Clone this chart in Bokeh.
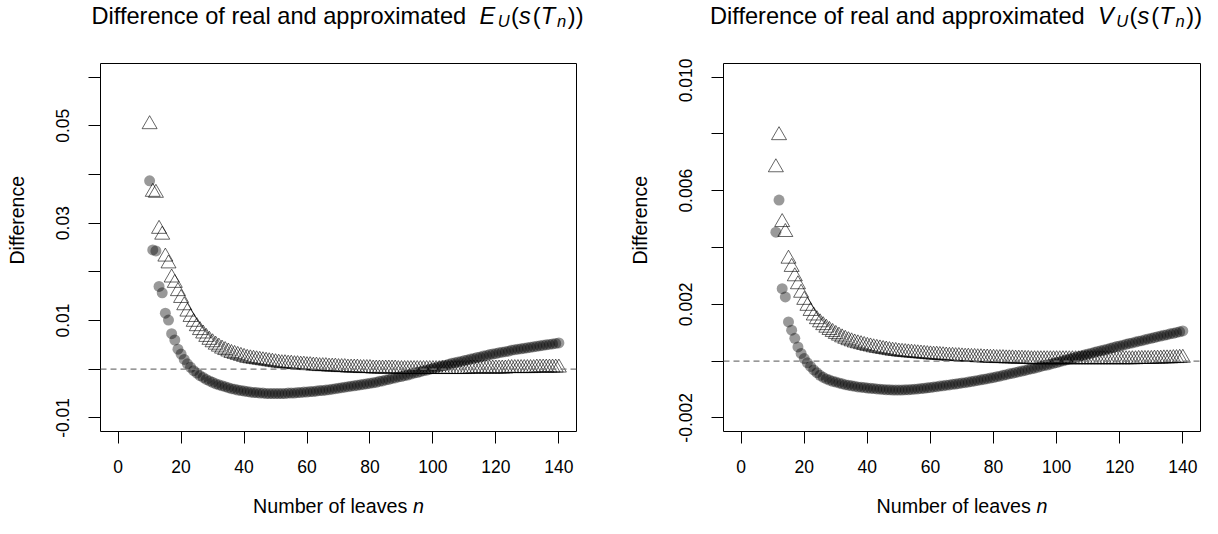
import math
from bokeh.plotting import figure
from bokeh.models import Range1d, FixedTicker, PrintfTickFormatter, Span
from bokeh.layouts import row, column
from bokeh.core.properties import value
from bokeh.embed import file_html
from bokeh.resources import INLINE

# ---------------- data ----------------
n_E = list(range(10, 141))
E_circles = [
    0.0387, 0.0245, 0.0243, 0.0170, 0.0157, 0.0115, 0.0101, 0.0073, 0.0060, 0.0041,            # 10-19
    0.0031, 0.0020, 0.0011, 0.0004, -0.0003, -0.0008, -0.0013, -0.0017, -0.0021, -0.0024,      # 20-29
    -0.0027, -0.0030, -0.0032, -0.0034, -0.0036, -0.0038, -0.0040, -0.0041, -0.0043, -0.0044,  # 30-39
    -0.0045, -0.0046, -0.0047, -0.0048, -0.0048, -0.0049, -0.0049, -0.0050, -0.0050, -0.0050,  # 40-49
    -0.0050, -0.0050, -0.0050, -0.0050, -0.0049, -0.0049, -0.0049, -0.0048, -0.0048, -0.0047,  # 50-59
    -0.0047, -0.0046, -0.0046, -0.0045, -0.0044, -0.0044, -0.0043, -0.0042, -0.0041, -0.0040,  # 60-69
    -0.0039, -0.0038, -0.0037, -0.0036, -0.0035, -0.0034, -0.0033, -0.0032, -0.0031, -0.0030,  # 70-79
    -0.0029, -0.0028, -0.0027, -0.0025, -0.0024, -0.0022, -0.0021, -0.0019, -0.0018, -0.0016,  # 80-89
    -0.0015, -0.0013, -0.0012, -0.0010, -0.0008, -0.0007, -0.0005, -0.0003, -0.0002, 0.0000,   # 90-99
    0.0002, 0.0003, 0.0005, 0.0007, 0.0008, 0.0010, 0.0012, 0.0013, 0.0015, 0.0016,            # 100-109
    0.0018, 0.0019, 0.0021, 0.0022, 0.0024, 0.0025, 0.0027, 0.0028, 0.0030, 0.0031,            # 110-119
    0.0032, 0.0034, 0.0035, 0.0036, 0.0037, 0.0039, 0.0040, 0.0041, 0.0042, 0.0043,            # 120-129
    0.0044, 0.0045, 0.0046, 0.0047, 0.0048, 0.0049, 0.0050, 0.0051, 0.0052, 0.0053,            # 130-139
    0.0054,                                                                                    # 140
]
E_triangles = [
    0.0503, 0.0364, 0.0362, 0.0288, 0.0276, 0.0231, 0.0217, 0.0188, 0.0177, 0.0160,            # 10-19
    0.0146, 0.0131, 0.0118, 0.0107, 0.0097, 0.0088, 0.0080, 0.0073, 0.0066, 0.0060,            # 20-29
    0.0055, 0.0050, 0.0046, 0.0042, 0.0039, 0.0036, 0.0033, 0.0031, 0.0029, 0.0027,            # 30-39
    0.0025, 0.0023, 0.0022, 0.0021, 0.0020, 0.0019, 0.0018, 0.0017, 0.0016, 0.0015,            # 40-49
    0.0014, 0.0013, 0.0012, 0.0012, 0.0011, 0.0011, 0.0010, 0.0010, 0.0009, 0.0009,            # 50-59
    0.0008, 0.0008, 0.0007, 0.0007, 0.0006, 0.0006, 0.0006, 0.0005, 0.0005, 0.0005,            # 60-69
    0.0004, 0.0004, 0.0004, 0.0003, 0.0003, 0.0003, 0.0003, 0.0002, 0.0002, 0.0002,            # 70-79
    0.0002, 0.0001, 0.0001, 0.0001, 0.0001, 0.0001, 0.0001, 0.0001, 0.0001, 0.0000,            # 80-89
    0.0000, 0.0000, 0.0000, 0.0000, 0.0000, 0.0000, 0.0000, 0.0000, 0.0000, 0.0000,            # 90-99
    0.0000, 0.0000, 0.0000, 0.0000, 0.0000, 0.0000, 0.0000, 0.0000, 0.0000, 0.0000,            # 100-109
    0.0000, 0.0000, 0.0001, 0.0001, 0.0001, 0.0001, 0.0001, 0.0001, 0.0001, 0.0001,            # 110-119
    0.0001, 0.0001, 0.0001, 0.0001, 0.0002, 0.0002, 0.0002, 0.0002, 0.0002, 0.0002,            # 120-129
    0.0002, 0.0002, 0.0002, 0.0003, 0.0003, 0.0003, 0.0003, 0.0003, 0.0003, 0.0003,            # 130-139
    0.0003,                                                                                    # 140
]

n_V = list(range(11, 141))
V_circles = [
    0.00454, 0.00567, 0.00255, 0.00226, 0.00138, 0.00109, 0.00080, 0.00050, 0.00027,                      # 11-19
    0.00009, -0.00006, -0.00019, -0.00031, -0.00041, -0.00050, -0.00057, -0.00063, -0.00067, -0.00071,    # 20-29
    -0.00074, -0.00077, -0.00080, -0.00083, -0.00085, -0.00087, -0.00089, -0.00091, -0.00092, -0.00093,   # 30-39
    -0.00095, -0.00096, -0.00097, -0.00098, -0.00099, -0.00100, -0.00101, -0.00101, -0.00102, -0.00102,   # 40-49
    -0.00102, -0.00102, -0.00101, -0.00101, -0.00100, -0.00099, -0.00098, -0.00097, -0.00096, -0.00094,   # 50-59
    -0.00093, -0.00091, -0.00090, -0.00088, -0.00087, -0.00085, -0.00084, -0.00082, -0.00081, -0.00079,   # 60-69
    -0.00077, -0.00076, -0.00074, -0.00072, -0.00070, -0.00068, -0.00066, -0.00064, -0.00062, -0.00060,   # 70-79
    -0.00058, -0.00055, -0.00053, -0.00050, -0.00048, -0.00045, -0.00043, -0.00040, -0.00038, -0.00035,   # 80-89
    -0.00033, -0.00030, -0.00027, -0.00025, -0.00022, -0.00019, -0.00016, -0.00014, -0.00011, -0.00008,   # 90-99
    -0.00005, -0.00002, 0.00001, 0.00004, 0.00007, 0.00010, 0.00013, 0.00016, 0.00019, 0.00022,           # 100-109
    0.00025, 0.00028, 0.00031, 0.00034, 0.00036, 0.00039, 0.00042, 0.00045, 0.00048, 0.00051,             # 110-119
    0.00053, 0.00056, 0.00059, 0.00062, 0.00064, 0.00067, 0.00070, 0.00072, 0.00075, 0.00078,             # 120-129
    0.00080, 0.00083, 0.00086, 0.00088, 0.00091, 0.00093, 0.00096, 0.00098, 0.00101, 0.00103,             # 130-139
    0.00106,                                                                                              # 140
]
V_triangles = [
    0.00682, 0.00795, 0.00489, 0.00454, 0.00360, 0.00331, 0.00298, 0.00270, 0.00240,             # 11-19
    0.00215, 0.00194, 0.00176, 0.00160, 0.00147, 0.00136, 0.00126, 0.00117, 0.00109, 0.00102,    # 20-29
    0.00095, 0.00089, 0.00083, 0.00078, 0.00073, 0.00069, 0.00065, 0.00062, 0.00059, 0.00056,    # 30-39
    0.00053, 0.00051, 0.00048, 0.00046, 0.00044, 0.00042, 0.00040, 0.00038, 0.00036, 0.00035,    # 40-49
    0.00033, 0.00032, 0.00031, 0.00030, 0.00029, 0.00028, 0.00027, 0.00026, 0.00025, 0.00024,    # 50-59
    0.00023, 0.00022, 0.00022, 0.00021, 0.00020, 0.00019, 0.00018, 0.00018, 0.00017, 0.00017,    # 60-69
    0.00016, 0.00015, 0.00015, 0.00014, 0.00014, 0.00013, 0.00013, 0.00012, 0.00012, 0.00011,    # 70-79
    0.00011, 0.00010, 0.00010, 0.00010, 0.00009, 0.00009, 0.00009, 0.00008, 0.00008, 0.00008,    # 80-89
    0.00007, 0.00007, 0.00006, 0.00006, 0.00006, 0.00006, 0.00006, 0.00006, 0.00006, 0.00006,    # 90-99
    0.00006, 0.00006, 0.00006, 0.00006, 0.00006, 0.00006, 0.00006, 0.00006, 0.00006, 0.00006,    # 100-109
    0.00006, 0.00006, 0.00006, 0.00006, 0.00006, 0.00006, 0.00006, 0.00006, 0.00006, 0.00006,    # 110-119
    0.00006, 0.00006, 0.00006, 0.00006, 0.00006, 0.00006, 0.00007, 0.00007, 0.00007, 0.00007,    # 120-129
    0.00007, 0.00008, 0.00008, 0.00008, 0.00009, 0.00009, 0.00009, 0.00010, 0.00010, 0.00011,    # 130-139
    0.00011,                                                                                     # 140
]

x_ticks = [0, 20, 40, 60, 80, 100, 120, 140]
E_yticks_labeled = [-0.01, 0.01, 0.03, 0.05]
E_yticks_unlabeled = [0.0, 0.02, 0.04, 0.06]
V_yticks_labeled = [-0.002, 0.002, 0.006, 0.010]
V_yticks_unlabeled = [0.0, 0.004, 0.008]
x_lim = (0, 140)
E_ylim = (-0.01, 0.06)
V_ylim = (-0.002, 0.010)

title_text = "Difference of real and approximated"
xlabel_text = "Number of leaves "
ylabel_text = "Difference"

# ---------------- layout ----------------
FONT = "Liberation Sans"
TITLE_H = 58
MID_H = 432
XLAB_H = 28
YLAB_W = 40
FRAME_H = 368
SHIFT = 9      # empirical correction of the rendered text baseline


def ext(lim):
    d = (lim[1] - lim[0]) * 0.04
    return (lim[0] - d, lim[1] + d)


def text_fig(w, h):
    f = figure(width=w, height=h, x_range=Range1d(0, w), y_range=Range1d(0, h),
               x_axis_type=None, y_axis_type=None, toolbar_location=None,
               output_backend="svg", min_border=0, outline_line_color=None,
               background_fill_color="white", border_fill_color="white")
    return f


def put(f, h, items, size, style="normal", **kw):
    # items: (text, x_px, y_px_from_top)
    f.text(x=[it[1] for it in items], y=[h - it[2] for it in items],
           text=[it[0] for it in items], text_font=value(FONT),
           text_font_size=value(size), text_font_style=value(style),
           text_color="black", text_baseline="alphabetic", **kw)


def make_main(width, border_left, frame_w, ylim, ymaj, ymin, fmt, n, circ, tri):
    p = figure(width=width, height=MID_H, output_backend="svg", toolbar_location=None,
               x_range=Range1d(*ext(x_lim)), y_range=Range1d(*ext(ylim)),
               min_border_left=border_left, min_border_right=width - border_left - frame_w,
               min_border_top=5, min_border_bottom=MID_H - 5 - FRAME_H,
               background_fill_color="white", border_fill_color="white")
    p.xgrid.visible = False
    p.ygrid.visible = False
    p.outline_line_color = "black"
    p.outline_line_width = 1
    p.outline_line_alpha = 1
    for ax in (p.xaxis[0], p.yaxis[0]):
        ax.axis_line_color = None
        ax.major_tick_out = 12
        ax.major_tick_in = 0
        ax.minor_tick_out = 12
        ax.minor_tick_in = 0
        ax.major_tick_line_color = "black"
        ax.minor_tick_line_color = "black"
        ax.major_label_text_font = FONT
        ax.major_label_text_font_size = "17.5px"
        ax.major_label_text_color = "black"
    p.xaxis[0].ticker = FixedTicker(ticks=x_ticks, minor_ticks=[])
    p.xaxis[0].major_label_standoff = 16
    p.yaxis[0].ticker = FixedTicker(ticks=ymaj, minor_ticks=ymin)
    p.yaxis[0].formatter = PrintfTickFormatter(format=fmt)
    p.yaxis[0].major_label_orientation = "vertical"
    p.yaxis[0].major_label_standoff = 19

    p.add_layout(Span(location=0, dimension="width", line_color="#777777",
                      line_width=1.2, line_dash="6 4"))
    p.scatter(n, circ, marker="circle", size=11, fill_color="black", fill_alpha=0.4,
              line_color=None)
    p.scatter(n, tri, marker="triangle", size=15, fill_color=None, line_color="black",
              line_alpha=0.6, line_width=1)
    return p


def make_panel(col_x, col_w, frame_x, frame_w, title_x, letter, ylim, ymaj, ymin, fmt,
               n, circ, tri):
    # title (plotmath-like composition)
    tf = text_fig(col_w, TITLE_H)
    T, S = "23.6px", "16.5px"
    base = 24 - SHIFT
    sub = base + 5.5
    x0 = title_x - col_x
    e0 = x0 + 388
    put(tf, TITLE_H, [(title_text, x0, base), ("(", e0 + 31.6, base), ("(", e0 + 53.3, base),
                      ("))", e0 + 88.3, base)], T)
    put(tf, TITLE_H, [(letter, e0, base), ("s", e0 + 39.5, base), ("T", e0 + 61.2, base)],
        T, "italic")
    put(tf, TITLE_H, [("U", e0 + 18.2, sub), ("n", e0 + 77.6, sub)], S, "italic")

    off = frame_x - 100
    # y label (rotated)
    yf = text_fig(YLAB_W, MID_H)
    put(yf, MID_H, [(ylabel_text, 25 - SHIFT + off - col_x, 242 - TITLE_H)], "19.5px",
        angle=math.pi / 2, text_align="center")

    main = make_main(col_w - YLAB_W, frame_x - col_x - YLAB_W, frame_w, ylim, ymaj, ymin,
                     fmt, n, circ, tri)

    # x label
    xf = text_fig(col_w, XLAB_H)
    xb = 514 - SHIFT - TITLE_H - MID_H
    xs = frame_x + frame_w / 2 - 85.4 - col_x
    put(xf, XLAB_H, [(xlabel_text, xs, xb)], "19.7px")
    put(xf, XLAB_H, [("n", xs + 159.9, xb)], "19.7px", "italic")

    return column(tf, row(yf, main), xf)


left = make_panel(0, 609, 100, 476, 91, "E", E_ylim, E_yticks_labeled, E_yticks_unlabeled,
                  "%.2f", n_E, E_circles, E_triangles)
right = make_panel(609, 593, 723, 477, 709.5, "V", V_ylim, V_yticks_labeled,
                   V_yticks_unlabeled, "%.3f", n_V, V_circles, V_triangles)

layout = row(left, right)
open("out.html", "w").write(file_html(layout, INLINE))
